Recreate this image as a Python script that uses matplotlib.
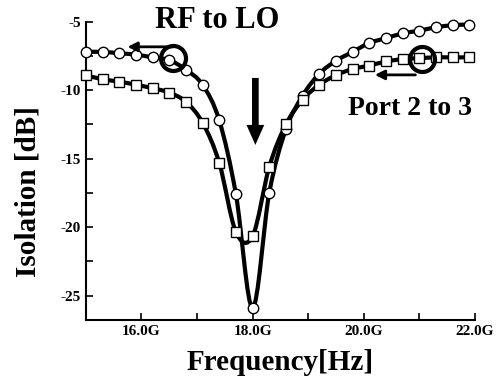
#Isolation vs frequency for two port pairs, black serif style like an Origin plot.
import matplotlib
matplotlib.use('Agg')
import matplotlib.pyplot as plt
import numpy as np
from matplotlib.path import Path
from matplotlib.patches import PathPatch
from matplotlib.ticker import MultipleLocator, FuncFormatter

#Frequencies in GHz (one point every 0.3 GHz).
freq = [15.0, 15.3, 15.6, 15.9, 16.2, 16.5, 16.8, 17.1, 17.4, 17.7, 18.0, 18.3,
        18.6, 18.9, 19.2, 19.5, 19.8, 20.1, 20.4, 20.7, 21.0, 21.3, 21.6, 21.9]

#RF to LO isolation (circles).
rf_lo = [-7.2, -7.2, -7.3, -7.4, -7.6, -7.8, -8.5, -9.6, -12.2, -17.6, -25.9, -17.5,
         -12.85, -10.4, -8.8, -7.85, -7.2, -6.55, -6.2, -5.85, -5.65, -5.4, -5.25, -5.2]

#Port 2 to 3 isolation (squares).
port23 = [-8.9, -9.2, -9.37, -9.6, -9.85, -10.17, -10.85, -12.37, -15.3, -20.35, -20.67, -15.6,
          -12.5, -10.7, -9.6, -8.9, -8.45, -8.2, -7.9, -7.73, -7.66, -7.6, -7.6, -7.6]

plt.rcParams['font.family'] = ['Liberation Serif', 'DejaVu Serif']
plt.rcParams['font.weight'] = 'bold'

fig = plt.figure(figsize=(5.02, 3.89), dpi=100)
ax = fig.add_axes([0.171, 0.177, 0.775, 0.767])


#Smooth curve through the points as a Catmull-Rom style bezier path.
def smooth_path(x, y):
    pts = np.column_stack([x, y])
    n = len(pts)
    verts = [pts[0]]
    codes = [Path.MOVETO]
    for i in range(n - 1):
        p0 = pts[max(i - 1, 0)]
        p1 = pts[i]
        p2 = pts[i + 1]
        p3 = pts[min(i + 2, n - 1)]
        verts += [p1 + (p2 - p0) / 6, p2 - (p3 - p1) / 6, p2]
        codes += [Path.CURVE4] * 3
    return Path(verts, codes)


for series in (rf_lo, port23):
    ax.add_patch(PathPatch(smooth_path(freq, series), fill=False, lw=3, ec='black', zorder=2))

ax.plot(freq, rf_lo, 'o', ms=7.5, mfc='white', mec='black', mew=1, zorder=3, clip_on=False)
ax.plot(freq, port23, 's', ms=7, mfc='white', mec='black', mew=1, zorder=3, clip_on=False)

#Highlight rings and arrows.
ax.plot(16.57, -7.64, 'o', ms=18, mfc='none', mec='black', mew=3, zorder=4)
ax.plot(21.04, -7.73, 'o', ms=18, mfc='none', mec='black', mew=3, zorder=4)
ax.annotate('', xy=(15.7, -6.83), xytext=(16.62, -6.83),
            arrowprops=dict(arrowstyle='-|>', lw=2, color='black', mutation_scale=14))
ax.annotate('', xy=(20.15, -8.88), xytext=(20.98, -8.88),
            arrowprops=dict(arrowstyle='-|>', lw=2, color='black', mutation_scale=14))
ax.annotate('', xy=(18.05, -14.2), xytext=(18.05, -8.9),
            arrowprops=dict(arrowstyle='simple,head_length=0.9,head_width=0.8,tail_width=0.3',
                            color='black', mutation_scale=16, lw=0))

ax.text(17.36, -4.93, 'RF to LO', fontsize=22, fontweight='bold', ha='center', va='center')
ax.text(20.84, -11.3, 'Port 2 to 3', fontsize=20, fontweight='bold', ha='center', va='center')

ax.set_xlim(15, 22)
ax.set_ylim(-26.8, -5)
ax.spines['top'].set_visible(False)
ax.spines['right'].set_visible(False)
ax.spines['left'].set_linewidth(1.5)
ax.spines['bottom'].set_linewidth(1.5)

ax.xaxis.set_major_locator(MultipleLocator(2))
ax.xaxis.set_minor_locator(MultipleLocator(1))
ax.yaxis.set_major_locator(MultipleLocator(5))
ax.yaxis.set_minor_locator(MultipleLocator(2.5))
ax.xaxis.set_major_formatter(FuncFormatter(lambda v, p: '%.1fG' % v))
ax.yaxis.set_major_formatter(FuncFormatter(lambda v, p: '%d' % v))
ax.tick_params(which='both', direction='in', width=1.2, labelsize=11)
ax.tick_params(which='major', length=5)
ax.tick_params(which='minor', length=5)
for lab in ax.get_xticklabels() + ax.get_yticklabels():
    lab.set_fontweight('bold')

ax.set_xlabel('Frequency[Hz]', fontsize=21, fontweight='bold', labelpad=8)
ax.set_ylabel('Isolation [dB]', fontsize=21, fontweight='bold')
ax.yaxis.set_label_coords(-0.113, 0.43)

fig.savefig('out.png', dpi=100)
